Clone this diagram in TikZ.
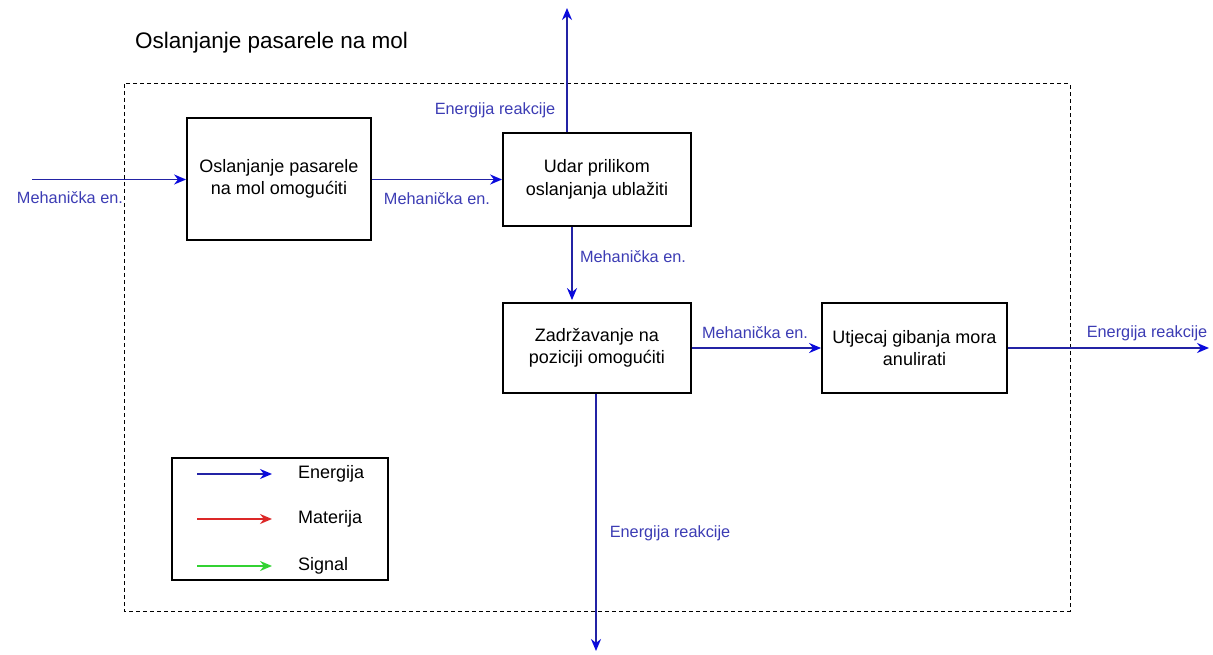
\documentclass[tikz,border=0pt]{standalone}
\usepackage{fontspec}
\setmainfont{Liberation Sans}
\usetikzlibrary{arrows.meta,calc}
\definecolor{flowblue}{RGB}{35,35,165}
\definecolor{headblue}{RGB}{10,10,220}
\definecolor{labelblue}{RGB}{60,60,180}
\definecolor{matred}{RGB}{220,40,40}
\definecolor{sigGreen}{RGB}{50,210,50}
\begin{document}
\begin{tikzpicture}[x=1pt,y=-1pt,
  fbox/.style={draw=black,line width=1.8pt,minimum width=#1,align=center,inner sep=0pt,
     font=\fontsize{18}{22.5}\selectfont},
  flow/.style={draw=flowblue,line width=1.9pt,-{Stealth[length=12pt,width=10pt,color=headblue]}},
  flowlbl/.style={text=labelblue,font=\fontsize{16.3}{20}\selectfont,inner sep=0pt},
  legtxt/.style={font=\fontsize{18}{22}\selectfont,inner sep=0pt,anchor=west}]
\useasboundingbox (0,0) rectangle (1213,655);
% boundary
\draw[line width=1pt,dash pattern=on 4pt off 3pt] (124,84) rectangle (1070,611);
\node[font=\fontsize{22.5}{26}\selectfont,anchor=west,inner sep=0pt] (title) at (135,43) {Oslanjanje pasarele na mol};
% boxes
\node[fbox=184pt,minimum height=122pt] (b1) at (279,179) {Oslanjanje pasarele\\na mol omogućiti};
\node[fbox=188pt,minimum height=93pt] (b2) at (597,179.5) {Udar prilikom\\oslanjanja ublažiti};
\node[fbox=188pt,minimum height=90pt] (b3) at (597,348) {Zadržavanje na\\poziciji omogućiti};
\node[fbox=185pt,minimum height=90pt] (b4) at (914.5,348) {Utjecaj gibanja mora\\anulirati};
% free ends
\coordinate (in) at (32,179.5);
\coordinate (up) at (567,8);
\coordinate (dn) at (596,651);
\coordinate (out) at (1209,348);
\coordinate (mid) at (572,0);
% connectors
\draw[flow] (in) -- (b1.west|-in);
\draw[flow] (b1.east|-in) -- (b2.west|-in);
\draw[flow] (b2.north-|up) -- (up);
\draw[flow] (b2.south-|mid) -- ($(b3.north-|mid)+(0,-2)$);
\draw[flow] (b3.south-|dn) -- (dn);
\draw[flow] (b3.east) -- (b4.west);
\draw[flow] (b4.east) -- (out);
% labels
\node[flowlbl] (l1) at (70,198) {Mehanička en.};
\node[flowlbl] (l2) at (437,199) {Mehanička en.};
\node[flowlbl] (l3) at (495,110) {Energija reakcije};
\node[flowlbl] (l4) at (633,257) {Mehanička en.};
\node[flowlbl] (l5) at (755,333) {Mehanička en.};
\node[flowlbl] (l6) at (1147,333) {Energija reakcije};
\node[flowlbl] (l7) at (670,533) {Energija reakcije};
% legend
\node[draw=black,line width=1.8pt,minimum width=216pt,minimum height=122pt,inner sep=0pt] (leg) at (280,519) {};
\coordinate (e1) at (197,474);
\coordinate (e2) at (197,519);
\coordinate (e3) at (197,566);
\coordinate (f1) at (272,474);
\coordinate (f2) at (272,519);
\coordinate (f3) at (272,566);
\draw[line width=1.9pt,draw=flowblue,-{Stealth[length=12pt,width=10pt,color=headblue]}] (e1) -- (f1);
\draw[line width=1.9pt,draw=matred,-{Stealth[length=12pt,width=10pt]}] (e2) -- (f2);
\draw[line width=1.9pt,draw=sigGreen,-{Stealth[length=12pt,width=10pt]}] (e3) -- (f3);
\node[legtxt] (t1) at (298,474) {Energija};
\node[legtxt] (t2) at (298,519) {Materija};
\node[legtxt] (t3) at (298,566) {Signal};
\end{tikzpicture}
\end{document}
